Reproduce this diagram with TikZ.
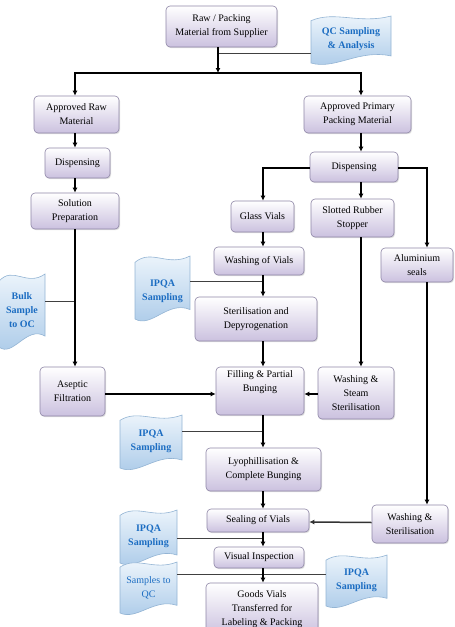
\documentclass[tikz,border=0pt]{standalone}
\usepackage{fontspec}
\setmainfont{Liberation Serif}
\usetikzlibrary{arrows.meta,shadows,calc}
\definecolor{boxbot}{HTML}{CBC1DF}
\definecolor{boxedge}{HTML}{8E86A6}
\definecolor{docbot}{HTML}{A9C9E8}
\definecolor{doctop}{HTML}{F2F8FD}
\definecolor{docedge}{HTML}{93B4D4}
\definecolor{doctxt}{HTML}{1C6DC2}
\tikzset{
  box/.style={draw=boxedge, line width=0.6pt, rounded corners=4pt,
    top color=white, bottom color=boxbot, align=center, inner sep=1pt,
    font=\fontsize{10}{14}\selectfont,
    drop shadow={opacity=0.25, shadow xshift=1pt, shadow yshift=-1.2pt}},
  docshape/.style={draw=docedge, line width=0.6pt, top color=doctop, bottom color=docbot},
  doctext/.style={align=center, inner sep=0pt, text=doctxt,
    font=\fontsize{10}{14}\selectfont\bfseries},
  arr/.style={line width=1.2pt, -{Latex[length=5pt,width=5pt]}},
  thinln/.style={line width=0.8pt, draw=black!75},
}
% #1 name, #2 x1, #3 y1, #4 x2, #5 y2, #6 text
\newcommand\bx[6]{%
  \node[box, minimum width={(#4-#2)*1pt}, minimum height={(#5-#3)*1pt}]
    (#1) at ({(#2+#4)/2},{(#3+#5)/2}) {#6};}
\newcommand\wdoc[7][]{%
  \pgfmathsetmacro\dA{0.1*(#6-#4)}%
  \pgfmathsetmacro\dW{#5-#3}%
  \path[docshape] (#3,{#4+\dA})
     .. controls ({#3+0.3*\dW},{#4-1.2*\dA}) and ({#3+0.6*\dW},{#4+1.8*\dA}) .. (#5,#4)
     -- (#5,{#6-1.5*\dA})
     .. controls ({#3+0.6*\dW},{#6-3*\dA}) and ({#3+0.3*\dW},{#6+1.5*\dA}) .. (#3,#6)
     -- cycle;
  \node[doctext, #1, minimum width={(#5-#3)*1pt}, minimum height={(#6-#4)*1pt}]
    (#2) at ({(#3+#5)/2},{(#4+#6)/2}) {#7};}
\begin{document}
\begin{tikzpicture}[x=1pt,y=-1pt]
\path[use as bounding box] (0,0) rectangle (455,627);
\clip (0,0) rectangle (455,627);
% columns / junctions
\coordinate (cL) at (75,0);
\coordinate (cM) at (263,0);
\coordinate (cS) at (361,0);
\coordinate (cA) at (427,0);
\coordinate (split) at (218,73);
\coordinate (q1) at (218,53);
\coordinate (jb) at (75,301);
\coordinate (j1) at (263,281);
\coordinate (j2) at (263,431);
\coordinate (j3) at (263,538);
\coordinate (j4) at (263,574);
% boxes
\bx{raw}{166}{6}{277}{47}{Raw / Packing\\Material from Supplier}
\bx{apr}{34}{96}{119}{133}{Approved Raw\\Material}
\bx{app}{304}{96}{411}{133}{Approved Primary\\Packing Material}
\bx{dl}{45}{148}{110}{178}{Dispensing}
\bx{dr}{310}{152}{398}{182}{Dispensing}
\bx{sol}{31}{193}{119}{229}{Solution\\Preparation}
\bx{gv}{231}{201}{294}{232}{Glass Vials}
\bx{srs}{311}{199}{394}{237}{Slotted Rubber\\Stopper}
\bx{al}{381}{248}{453}{282}{Aluminium\\seals}
\bx{wov}{214}{247}{304}{275}{Washing of Vials}
\bx{ster}{195}{297}{317}{341}{Sterilisation and\\Depyrogenation}
\bx{asep}{40}{367}{105}{416}{Aseptic\\Filtration}
\bx{fill}{216}{367}{304}{415}{Filling \& Partial\\Bunging\\[5pt]}
\bx{wss}{318}{367}{394}{419}{Washing \&\\Steam\\Sterilisation}
\bx{lyo}{206}{448}{321}{491}{Lyophillisation \&\\Complete Bunging}
\bx{seal}{207}{509}{309}{532}{Sealing of Vials}
\bx{wsr}{372}{505}{448}{543}{Washing \&\\Sterilisation}
\bx{vis}{214}{547}{304}{568}{Visual Inspection}
\bx{goods}{206}{583}{318}{635}{Goods Vials\\Transferred for\\Labeling \& Packing}
% documents
\wdoc{qc}{311}{16}{391}{63}{QC Sampling\\\& Analysis}
\wdoc{bulk}{-1}{274}{45}{347}{Bulk\\Sample\\to OC}
\wdoc[yshift=-4pt]{ipqa1}{135}{256}{190}{319}{IPQA\\Sampling}
\wdoc{ipqa2}{120}{415}{182}{468}{IPQA\\Sampling}
\wdoc{ipqa3}{120}{510}{177}{563}{IPQA\\Sampling}
\wdoc[font=\fontsize{10}{14}\selectfont]{stqc}{120}{562}{177}{613}{Samples to\\QC}
\wdoc{ipqa4}{326}{555}{387}{606}{IPQA\\Sampling}
% thin sampling lines
\draw[thinln] (qc.west |- q1) -- (q1);
\draw[thinln] (bulk.east |- jb) -- (jb);
\draw[thinln] (ipqa1.east |- j1) -- (j1);
\draw[thinln] (ipqa2.east |- j2) -- (j2);
\draw[thinln] (ipqa3.east |- j3) -- (j3);
\draw[thinln] (stqc.east |- j4) -- (ipqa4.west |- j4);
% main flow
\draw[arr] (raw.south -| split) -- (split);
\draw[arr] (split) -| (apr.north -| cL);
\draw[arr] (split) -| (app.north -| cS);
\draw[arr] (apr.south -| cL) -- (dl.north -| cL);
\draw[arr] (dl.south -| cL) -- (sol.north -| cL);
\draw[arr] (sol.south -| cL) -- (asep.north -| cL);
\draw[arr] (app.south -| cS) -- (dr.north -| cS);
\draw[arr] (dr.west) ++(0,1) -| (gv.north -| cM);
\draw[arr] (dr.east) ++(0,1) -| (al.north -| cA);
\draw[arr] (dr.south -| cS) -- (srs.north -| cS);
\draw[arr] (gv.south -| cM) -- (wov.north -| cM);
\draw[arr] (wov.south -| cM) -- (ster.north -| cM);
\draw[arr] (ster.south -| cM) -- (fill.north -| cM);
\draw[arr] (srs.south -| cS) -- (wss.north -| cS);
\draw[arr] ($(asep.east)+(0,2.5)$) -- ($(fill.west)+(0,3)$);
\draw[arr] ($(wss.west)+(0,1)$) -- ($(fill.east)+(0,3)$);
\draw[arr] (fill.south -| cM) -- (lyo.north -| cM);
\draw[arr] (lyo.south -| cM) -- (seal.north -| cM);
\draw[arr] (al.south -| cA) -- (wsr.north -| cA);
\draw[arr, line width=1.5pt, draw=black!80] ($(wsr.west)+(0,-1.5)$) -- ($(seal.east)+(0,1.5)$);
\draw[arr] (seal.south -| cM) -- (vis.north -| cM);
\draw[arr] (vis.south -| cM) -- (goods.north -| cM);
\end{tikzpicture}
\end{document}
